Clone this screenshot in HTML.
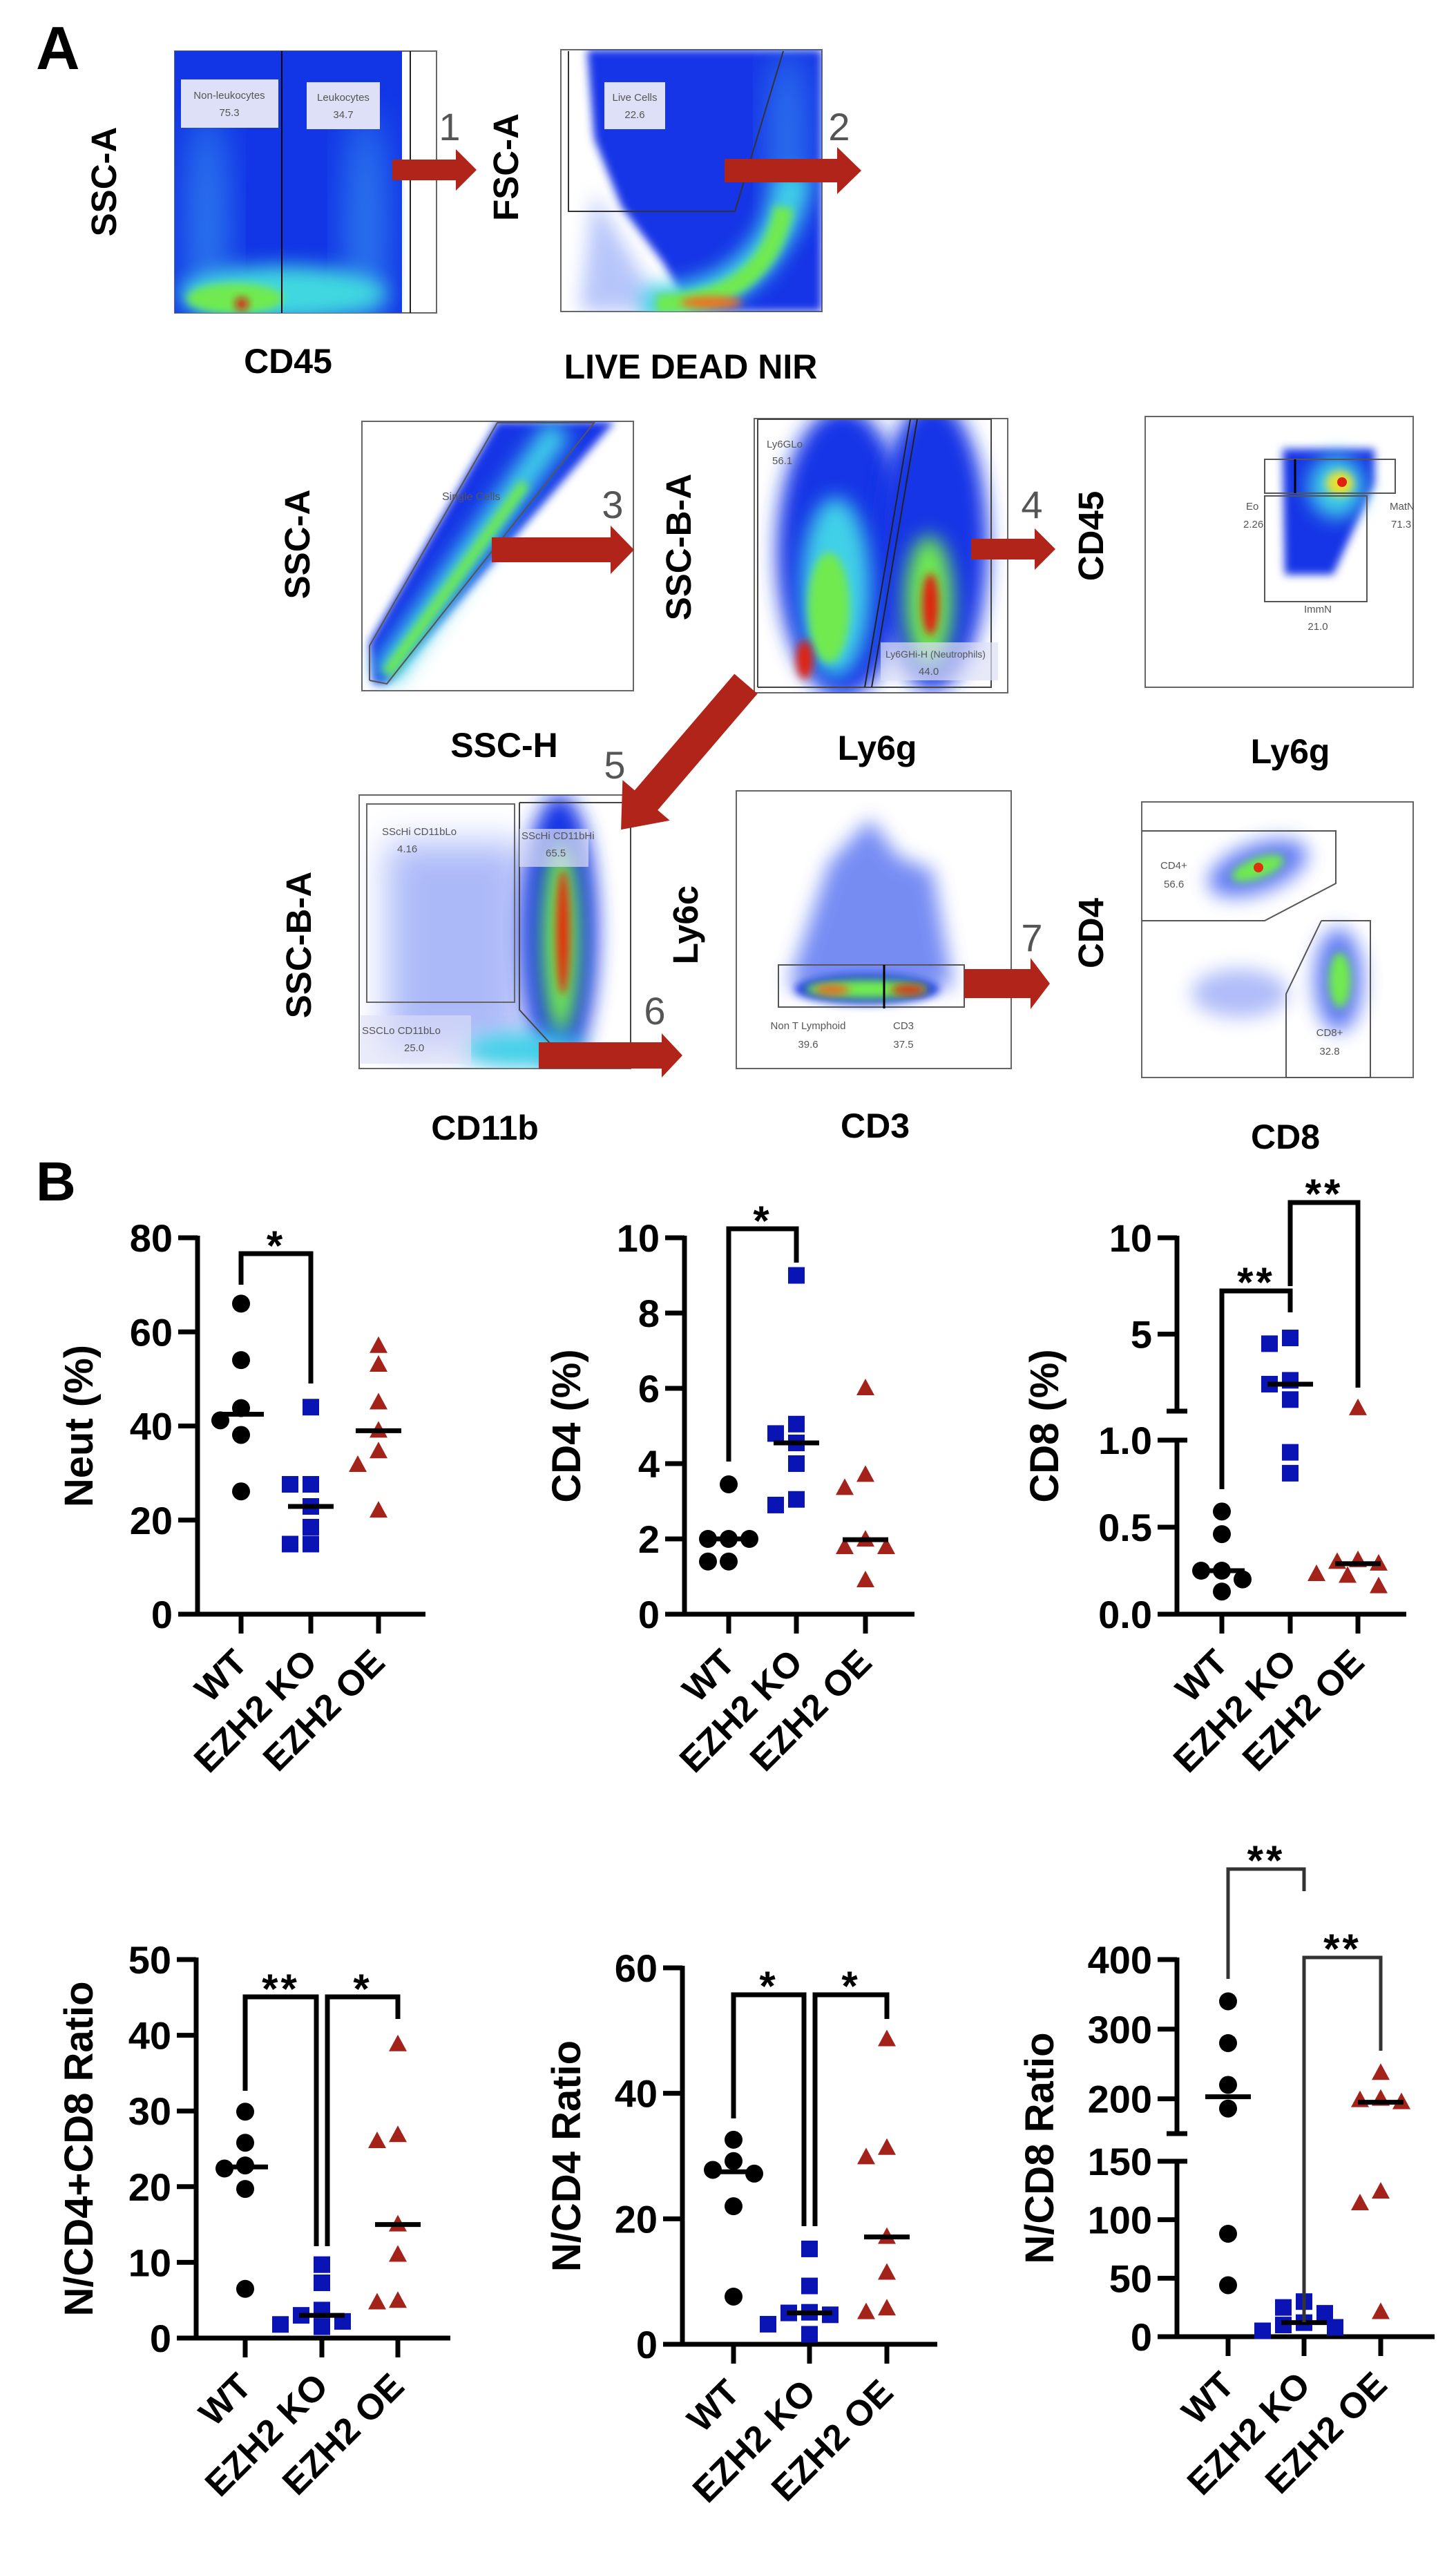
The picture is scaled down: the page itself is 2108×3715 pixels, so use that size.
<!DOCTYPE html>
<html><head><meta charset="utf-8"><style>
html,body{margin:0;padding:0;background:#fff}
svg text{font-family:"Liberation Sans",Arial,sans-serif}
</style></head><body>
<svg id="fig" width="2108" height="3710" viewBox="0 0 2108 3710" xmlns="http://www.w3.org/2000/svg">
<defs>
<filter id="b6" x="-50%" y="-50%" width="200%" height="200%"><feGaussianBlur stdDeviation="6"/></filter>
<filter id="b14" x="-50%" y="-50%" width="200%" height="200%"><feGaussianBlur stdDeviation="14"/></filter>
<filter id="b25" x="-50%" y="-50%" width="200%" height="200%"><feGaussianBlur stdDeviation="25"/></filter>
<clipPath id="c1"><rect x="253" y="74" width="379" height="379"/></clipPath>
<clipPath id="c2"><rect x="812" y="72" width="378" height="379"/></clipPath>
<clipPath id="c3"><rect x="524" y="610" width="393" height="390"/></clipPath>
<clipPath id="c4"><rect x="1092" y="606" width="367" height="397"/></clipPath>
<clipPath id="c5"><rect x="1658" y="603" width="388" height="392"/></clipPath>
<clipPath id="c6"><rect x="520" y="1151" width="393" height="396"/></clipPath>
<clipPath id="c7"><rect x="1066" y="1145" width="398" height="402"/></clipPath>
<clipPath id="c8"><rect x="1653" y="1161" width="393" height="399"/></clipPath>
</defs>

<text x="52" y="100" font-size="88" font-weight="bold">A</text>
<text x="52" y="1738" font-size="80" font-weight="bold">B</text>

<!-- Plot 1 -->
<g>
<rect x="253" y="74" width="379" height="379" fill="#fff" stroke="#666" stroke-width="2"/>
<g clip-path="url(#c1)">
<rect x="253" y="74" width="329" height="379" fill="#1236e6"/>
<ellipse cx="300" cy="330" rx="28" ry="170" fill="#3a9cf2" opacity=".7" filter="url(#b25)"/>
<ellipse cx="530" cy="330" rx="28" ry="170" fill="#3a9cf2" opacity=".7" filter="url(#b25)"/>
<ellipse cx="410" cy="425" rx="150" ry="40" fill="#40d8e0" filter="url(#b14)"/>
<ellipse cx="340" cy="432" rx="70" ry="22" fill="#70ea50" filter="url(#b6)"/>
<circle cx="350" cy="440" r="9" fill="#e01010" filter="url(#b6)"/>
</g>
<line x1="408" y1="74" x2="408" y2="453" stroke="#000" stroke-width="2"/>
<line x1="594" y1="74" x2="594" y2="453" stroke="#222" stroke-width="2"/>
<rect x="262" y="115" width="141" height="70" fill="#dde0f6"/>
<text x="332" y="143" font-size="15" fill="#555" text-anchor="middle">Non-leukocytes</text>
<text x="332" y="168" font-size="15" fill="#555" text-anchor="middle">75.3</text>
<rect x="444" y="119" width="106" height="68" fill="#dde0f6"/>
<text x="497" y="146" font-size="15" fill="#555" text-anchor="middle">Leukocytes</text>
<text x="497" y="171" font-size="15" fill="#555" text-anchor="middle">34.7</text>
<text x="168" y="263" font-size="51" font-weight="bold" text-anchor="middle" transform="rotate(-90 168 263)">SSC-A</text>
<text x="417" y="540" font-size="50" font-weight="bold" text-anchor="middle">CD45</text>
</g>

<!-- Plot 2 -->
<g>
<rect x="812" y="72" width="378" height="379" fill="#fff" stroke="#666" stroke-width="2"/>
<g clip-path="url(#c2)">
<polygon points="850,72 1190,72 1190,451 1000,451 960,380 900,300 860,200" fill="#1236e6" filter="url(#b6)"/>
<polygon points="860,280 960,451 840,451" fill="#6f8cf5" opacity=".5" filter="url(#b14)"/>
<ellipse cx="1140" cy="200" rx="25" ry="130" fill="#3a9cf2" opacity=".7" filter="url(#b25)"/>
<path d="M930,440 Q1120,440 1150,250" stroke="#3fd0e8" stroke-width="50" fill="none" filter="url(#b14)"/>
<path d="M950,440 Q1110,438 1135,300" stroke="#70ea50" stroke-width="28" fill="none" filter="url(#b6)"/>
<ellipse cx="1030" cy="438" rx="45" ry="9" fill="#f07020" filter="url(#b6)"/>
</g>
<polyline points="823,74 823,306 1064,306 1134,74" fill="none" stroke="#333" stroke-width="2"/>
<rect x="875" y="119" width="88" height="68" fill="#dde0f6"/>
<text x="919" y="146" font-size="15" fill="#555" text-anchor="middle">Live Cells</text>
<text x="919" y="171" font-size="15" fill="#555" text-anchor="middle">22.6</text>
<text x="750" y="242" font-size="51" font-weight="bold" text-anchor="middle" transform="rotate(-90 750 242)">FSC-A</text>
<text x="1000" y="548" font-size="50" font-weight="bold" text-anchor="middle">LIVE DEAD NIR</text>
</g>

<!-- Plot 3 -->
<g>
<rect x="524" y="610" width="393" height="390" fill="#fff" stroke="#666" stroke-width="2"/>
<g clip-path="url(#c3)">
<polygon points="540,990 560,990 890,610 720,610 535,930" fill="#1236e6" filter="url(#b6)"/>
<line x1="555" y1="980" x2="810" y2="620" stroke="#3fd0e8" stroke-width="40" filter="url(#b14)"/>
<line x1="560" y1="975" x2="760" y2="700" stroke="#70ea50" stroke-width="16" filter="url(#b6)"/>
</g>
<polyline points="535,985 535,935 720,612 860,612 560,990 535,985" fill="none" stroke="#555" stroke-width="2"/>
<text x="640" y="724" font-size="16" fill="#555">Single Cells</text>
<text x="448" y="788" font-size="51" font-weight="bold" text-anchor="middle" transform="rotate(-90 448 788)">SSC-A</text>
<text x="730" y="1096" font-size="50" font-weight="bold" text-anchor="middle">SSC-H</text>
</g>

<!-- Plot 4 -->
<g>
<rect x="1092" y="606" width="367" height="397" fill="#fff" stroke="#666" stroke-width="2"/>
<g clip-path="url(#c4)">
<ellipse cx="1220" cy="800" rx="95" ry="210" fill="#1236e6" filter="url(#b14)"/>
<ellipse cx="1350" cy="790" rx="80" ry="210" fill="#1236e6" filter="url(#b14)"/>
<ellipse cx="1210" cy="850" rx="50" ry="130" fill="#3fd0e8" filter="url(#b14)"/>
<ellipse cx="1200" cy="880" rx="30" ry="80" fill="#70ea50" filter="url(#b6)"/>
<ellipse cx="1165" cy="955" rx="12" ry="28" fill="#e02010" filter="url(#b6)"/>
<ellipse cx="1345" cy="870" rx="35" ry="95" fill="#70ea50" filter="url(#b14)"/>
<ellipse cx="1347" cy="875" rx="12" ry="45" fill="#e02010" filter="url(#b6)"/>
</g>
<polyline points="1097,995 1097,607 1435,607 1435,995 1097,995" fill="none" stroke="#444" stroke-width="2"/>
<line x1="1252" y1="995" x2="1318" y2="607" stroke="#222" stroke-width="2"/>
<line x1="1262" y1="995" x2="1328" y2="607" stroke="#222" stroke-width="2"/>
<text x="1110" y="648" font-size="15" fill="#555">Ly6GLo</text>
<text x="1118" y="672" font-size="15" fill="#555">56.1</text>
<rect x="1275" y="930" width="170" height="55" fill="#dde0f6" opacity=".7"/>
<text x="1282" y="952" font-size="14" fill="#555">Ly6GHi-H (Neutrophils)</text>
<text x="1330" y="977" font-size="15" fill="#555">44.0</text>
<text x="984" y="776" font-size="51" font-weight="bold" text-anchor="middle" transform="rotate(-90 1000 776)">SSC-B-A</text>
<text x="1270" y="1100" font-size="50" font-weight="bold" text-anchor="middle">Ly6g</text>
</g>

<!-- Plot 5 -->
<g>
<rect x="1658" y="603" width="388" height="392" fill="#fff" stroke="#666" stroke-width="2"/>
<g clip-path="url(#c5)">
<polygon points="1857,650 1990,650 1990,700 1930,832 1860,832" fill="#1236e6" filter="url(#b6)"/>
<ellipse cx="1935" cy="705" rx="40" ry="45" fill="#3fd0e8" filter="url(#b14)"/>
<ellipse cx="1940" cy="700" rx="20" ry="18" fill="#e8e030" filter="url(#b6)"/>
<circle cx="1943" cy="698" r="7" fill="#e02010"/>
</g>
<rect x="1831" y="665" width="189" height="49" fill="none" stroke="#555" stroke-width="2"/>
<line x1="1875" y1="665" x2="1875" y2="714" stroke="#000" stroke-width="3"/>
<rect x="1831" y="718" width="148" height="153" fill="none" stroke="#555" stroke-width="2"/>
<text x="1804" y="738" font-size="15" fill="#555">Eo</text>
<text x="1800" y="764" font-size="15" fill="#555">2.26</text>
<text x="2012" y="738" font-size="15" fill="#555">MatN</text>
<text x="2014" y="764" font-size="15" fill="#555">71.3</text>
<text x="1908" y="887" font-size="15" fill="#555" text-anchor="middle">ImmN</text>
<text x="1908" y="912" font-size="15" fill="#555" text-anchor="middle">21.0</text>
<text x="1597" y="776" font-size="51" font-weight="bold" text-anchor="middle" transform="rotate(-90 1597 776)">CD45</text>
<text x="1868" y="1105" font-size="50" font-weight="bold" text-anchor="middle">Ly6g</text>
</g>

<!-- Plot 6 -->
<g>
<rect x="520" y="1151" width="393" height="396" fill="#fff" stroke="#666" stroke-width="2"/>
<g clip-path="url(#c6)">
<rect x="560" y="1220" width="200" height="300" fill="#4a66f0" opacity=".45" filter="url(#b25)"/>
<ellipse cx="810" cy="1350" rx="55" ry="200" fill="#1236e6" filter="url(#b14)"/>
<ellipse cx="812" cy="1360" rx="28" ry="140" fill="#70ea50" filter="url(#b14)"/>
<ellipse cx="815" cy="1350" rx="10" ry="90" fill="#e03010" filter="url(#b6)"/>
<ellipse cx="760" cy="1520" rx="90" ry="25" fill="#3fd0e8" filter="url(#b14)"/>
</g>
<rect x="531" y="1164" width="214" height="287" fill="none" stroke="#666" stroke-width="2"/>
<polyline points="752,1162 913,1162 913,1545 828,1545 752,1462 752,1162" fill="none" stroke="#444" stroke-width="2"/>
<text x="553" y="1209" font-size="15" fill="#555">SScHi CD11bLo</text>
<text x="575" y="1234" font-size="15" fill="#555">4.16</text>
<rect x="752" y="1200" width="100" height="55" fill="#dde0f6" opacity=".7"/>
<text x="755" y="1215" font-size="15" fill="#555">SScHi CD11bHi</text>
<text x="790" y="1240" font-size="15" fill="#555">65.5</text>
<rect x="522" y="1470" width="160" height="70" fill="#dde0f6" opacity=".6"/>
<text x="524" y="1497" font-size="15" fill="#555">SSCLo CD11bLo</text>
<text x="585" y="1522" font-size="15" fill="#555">25.0</text>
<text x="433" y="1351" font-size="51" font-weight="bold" text-anchor="middle" transform="rotate(-90 450 1351)">SSC-B-A</text>
<text x="702" y="1650" font-size="50" font-weight="bold" text-anchor="middle">CD11b</text>
</g>

<!-- Plot 7 -->
<g>
<rect x="1066" y="1145" width="398" height="402" fill="#fff" stroke="#666" stroke-width="2"/>
<g clip-path="url(#c7)">
<polygon points="1140,1430 1200,1250 1260,1185 1300,1240 1350,1260 1380,1430" fill="#4a66f0" opacity=".75" filter="url(#b14)"/>
<ellipse cx="1255" cy="1432" rx="105" ry="22" fill="#1236e6" filter="url(#b6)"/>
<ellipse cx="1255" cy="1432" rx="90" ry="14" fill="#70ea50" filter="url(#b6)"/>
<ellipse cx="1205" cy="1433" rx="25" ry="7" fill="#f06020" filter="url(#b6)"/>
<ellipse cx="1315" cy="1433" rx="25" ry="7" fill="#e02010" filter="url(#b6)"/>
</g>
<rect x="1127" y="1397" width="269" height="61" fill="none" stroke="#555" stroke-width="2"/>
<line x1="1280" y1="1397" x2="1280" y2="1460" stroke="#000" stroke-width="3"/>
<text x="1170" y="1490" font-size="15" fill="#555" text-anchor="middle">Non T Lymphoid</text>
<text x="1170" y="1517" font-size="15" fill="#555" text-anchor="middle">39.6</text>
<text x="1308" y="1490" font-size="15" fill="#555" text-anchor="middle">CD3</text>
<text x="1308" y="1517" font-size="15" fill="#555" text-anchor="middle">37.5</text>
<text x="1010" y="1339" font-size="51" font-weight="bold" text-anchor="middle" transform="rotate(-90 1010 1339)">Ly6c</text>
<text x="1267" y="1647" font-size="50" font-weight="bold" text-anchor="middle">CD3</text>
</g>

<!-- Plot 8 -->
<g>
<rect x="1653" y="1161" width="393" height="399" fill="#fff" stroke="#666" stroke-width="2"/>
<g clip-path="url(#c8)">
<ellipse cx="1821" cy="1257" rx="75" ry="35" transform="rotate(-20 1821 1257)" fill="#3a5cf0" opacity=".8" filter="url(#b14)"/>
<ellipse cx="1821" cy="1257" rx="40" ry="15" transform="rotate(-20 1821 1257)" fill="#70ea50" filter="url(#b6)"/>
<circle cx="1822" cy="1256" r="7" fill="#e03010"/>
<ellipse cx="1938" cy="1419" rx="35" ry="75" fill="#3a5cf0" opacity=".8" filter="url(#b14)"/>
<ellipse cx="1940" cy="1419" rx="16" ry="40" fill="#70ea50" filter="url(#b6)"/>
<ellipse cx="1795" cy="1438" rx="70" ry="35" fill="#6f86f3" opacity=".55" filter="url(#b14)"/>
</g>
<polyline points="1653,1203 1934,1203 1934,1279 1831,1333 1653,1333" fill="none" stroke="#555" stroke-width="2"/>
<polyline points="1913,1333 1984,1333 1984,1560 1862,1560 1862,1439 1913,1333" fill="none" stroke="#555" stroke-width="2"/>
<text x="1680" y="1258" font-size="15" fill="#555">CD4+</text>
<text x="1685" y="1285" font-size="15" fill="#555">56.6</text>
<text x="1925" y="1500" font-size="15" fill="#555" text-anchor="middle">CD8+</text>
<text x="1925" y="1527" font-size="15" fill="#555" text-anchor="middle">32.8</text>
<text x="1597" y="1351" font-size="51" font-weight="bold" text-anchor="middle" transform="rotate(-90 1597 1351)">CD4</text>
<text x="1861" y="1663" font-size="50" font-weight="bold" text-anchor="middle">CD8</text>
</g>

<!-- Arrows -->
<g fill="#b0241a">
<polygon points="568,231 660,231 660,216 690,246 660,276 660,261 568,261"/>
<polygon points="1049,230 1212,230 1212,213 1247,247 1212,281 1212,264 1049,264"/>
<polygon points="712,778 884,778 884,761 918,796 884,831 884,814 712,814"/>
<polygon points="1406,780 1498,780 1498,765 1528,795 1498,825 1498,810 1406,810"/>
<polygon transform="translate(1080,990) rotate(130.6)" points="0,-22 222,-22 222,-45 278,0 222,45 222,22 0,22"/>
<polygon points="780,1509 958,1509 958,1496 988,1528 958,1560 958,1547 780,1547"/>
<polygon points="1396,1403 1492,1403 1492,1387 1520,1424 1492,1461 1492,1445 1396,1445"/>
</g>
<g font-size="56" fill="#555">
<text x="651" y="203" text-anchor="middle">1</text>
<text x="1215" y="203" text-anchor="middle">2</text>
<text x="887" y="750" text-anchor="middle">3</text>
<text x="1494" y="750" text-anchor="middle">4</text>
<text x="890" y="1127" text-anchor="middle">5</text>
<text x="948" y="1483" text-anchor="middle">6</text>
<text x="1494" y="1377" text-anchor="middle">7</text>
</g>
<g id="charts"></g>
</svg>

<script>
const groups = ["WT", "EZH2 KO", "EZH2 OE"];

const neutWT = [66, 54, 43.8, 41.2, 38.1, 26.1];
const neutKO = [44, 27.6, 27.6, 22.9, 18.5, 14.9, 14.9];
const neutOE = [57, 53, 45, 39, 34.6, 31.7, 22];
const neutTicks = [0, 20, 40, 60, 80];

const cd4WT = [3.45, 2.0, 2.0, 2.0, 1.4, 1.4];
const cd4KO = [9, 5.05, 4.8, 4.55, 4.0, 3.05, 2.9];
const cd4OE = [6, 3.7, 3.35, 1.98, 1.78, 1.78, 0.9];
const cd4Ticks = [0, 2, 4, 6, 8, 10];

const cd8WT = [0.59, 0.46, 0.25, 0.25, 0.2, 0.13];
const cd8KO = [4.8, 4.5, 2.6, 2.4, 1.6, 0.93, 0.81];
const cd8OE = [1.15, 0.31, 0.3, 0.29, 0.23, 0.22, 0.16];
const cd8Ticks = [0, 0.5, 1.0, 5, 10];
const cd8TickLabels = ["0.0", "0.5", "1.0", "5", "10"];

const ncd4cd8WT = [29.9, 25.8, 22.8, 22.4, 19.7, 6.5];
const ncd4cd8KO = [9.7, 7.3, 3.7, 3.0, 2.2, 1.8, 1.5];
const ncd4cd8OE = [38.8, 26.8, 26, 15, 11, 4.9, 4.7];
const ncd4cd8Ticks = [0, 10, 20, 30, 40, 50];

const ncd4WT = [32.6, 29.2, 27.8, 27.2, 22, 7.6];
const ncd4KO = [15.2, 9.3, 5.1, 5, 4.7, 3.2, 1.6];
const ncd4OE = [48.6, 31.3, 29.8, 17.1, 11.4, 5.7, 5.1];
const ncd4Ticks = [0, 20, 40, 60];

const ncd8WT = [340, 280, 220, 186, 88, 44];
const ncd8KO = [30, 25, 20, 12, 10, 8, 5];
const ncd8OE = [237, 200, 198, 195, 124, 114, 21];
const ncd8Ticks = [0, 50, 100, 150, 200, 300, 400];

const NS = "http://www.w3.org/2000/svg";
const root = document.getElementById("charts");
function mk(tag, attrs, parent) {
  const e = document.createElementNS(NS, tag);
  for (const k in attrs) e.setAttribute(k, attrs[k]);
  (parent || root).appendChild(e);
  return e;
}
function median(a) {
  const s = a.slice().sort((x, y) => x - y), n = s.length;
  return n % 2 ? s[(n - 1) / 2] : (s[n / 2 - 1] + s[n / 2]) / 2;
}
const colors = ["#000000", "#0a14b4", "#a3231a"];

const charts = [
  {name: "neut", title: "Neut (%)", data: [neutWT, neutKO, neutOE], ticks: neutTicks, labels: null,
   ax: 286, xs: [349, 450, 548], xe: 616, titleX: 134,
   segs: [{lo: 0, hi: 80, p0: 2337, p1: 1792}],
   brackets: [{a: 0, b: 1, top: 1815, la: 1860, lb: 2003, star: "*", sy: 1800}]},
  {name: "cd4", title: "CD4 (%)", data: [cd4WT, cd4KO, cd4OE], ticks: cd4Ticks, labels: null,
   ax: 991, xs: [1055, 1153, 1253], xe: 1324, titleX: 840,
   segs: [{lo: 0, hi: 10, p0: 2337, p1: 1792}],
   brackets: [{a: 0, b: 1, top: 1779, la: 2116, lb: 1828, star: "*", sy: 1764}]},
  {name: "cd8", title: "CD8 (%)", data: [cd8WT, cd8KO, cd8OE], ticks: cd8Ticks, labels: cd8TickLabels,
   ax: 1704, xs: [1769, 1868, 1966], xe: 2036, titleX: 1532,
   segs: [{lo: 0, hi: 1, p0: 2337, p1: 2085}, {lo: 1, hi: 10, p0: 2043, p1: 1792}],
   brackets: [{a: 0, b: 1, top: 1869, la: 2156, lb: 1900, star: "**", sy: 1853},
              {a: 1, b: 2, top: 1741, la: 1862, lb: 2009, star: "**", sy: 1725}]},
  {name: "n-cd4-cd8", title: "N/CD4+CD8 Ratio", data: [ncd4cd8WT, ncd4cd8KO, ncd4cd8OE], ticks: ncd4cd8Ticks, labels: null,
   ax: 284, xs: [355, 466, 576], xe: 652, titleX: 134,
   segs: [{lo: 0, hi: 50, p0: 3385, p1: 2837}],
   brackets: [{a: 0, b: 1, top: 2891, la: 3027, lb: 3252, star: "**", sy: 2876, ob: -8},
              {a: 1, b: 2, top: 2891, la: 3252, lb: 2923, star: "*", sy: 2876, oa: 8}]},
  {name: "n-cd4", title: "N/CD4 Ratio", data: [ncd4WT, ncd4KO, ncd4OE], ticks: ncd4Ticks, labels: null,
   ax: 988, xs: [1062, 1172, 1284], xe: 1357, titleX: 840,
   segs: [{lo: 0, hi: 60, p0: 3394, p1: 2849}],
   brackets: [{a: 0, b: 1, top: 2888, la: 3067, lb: 3223, star: "*", sy: 2872, ob: -8},
              {a: 1, b: 2, top: 2888, la: 3223, lb: 2923, star: "*", sy: 2872, oa: 8}]},
  {name: "n-cd8", title: "N/CD8 Ratio", data: [ncd8WT, ncd8KO, ncd8OE], ticks: ncd8Ticks, labels: null,
   ax: 1704, xs: [1778, 1888, 1999], xe: 2077, titleX: 1525,
   segs: [{lo: 0, hi: 150, p0: 3383, p1: 3129}, {lo: 150, hi: 400, p0: 3089, p1: 2837}],
   brackets: [{a: 0, b: 1, top: 2706, la: 2865, lb: 2738, star: "**", sy: 2690, gray: 1},
              {a: 1, b: 2, top: 2834, la: 3362, lb: 2969, star: "**", sy: 2818, gray: 1}]}
];

function yOf(c, v) {
  for (let i = 0; i < c.segs.length; i++) {
    const s = c.segs[i];
    if (v <= s.hi || i === c.segs.length - 1) {
      return s.p0 + (v - s.lo) / (s.hi - s.lo) * (s.p1 - s.p0);
    }
  }
}

charts.forEach(c => {
  const g = mk("g", {});
  
  
  const zero = c.segs[0].p0;
  c.segs.forEach((s, i) => {
    const ln = mk("line", {x1: c.ax, x2: c.ax, y1: s.p0 + (i === 0 ? 3 : 0), y2: s.p1 - 3, stroke: "#000", "stroke-width": 7}, g);
    
    
    if (c.segs.length > 1) {
      if (i > 0) mk("line", {x1: c.ax - 15, x2: c.ax + 15, y1: s.p0, y2: s.p0, stroke: "#000", "stroke-width": 7}, g);
      if (i < c.segs.length - 1) mk("line", {x1: c.ax - 15, x2: c.ax + 15, y1: s.p1, y2: s.p1, stroke: "#000", "stroke-width": 7}, g);
    }
  });
  const xa = mk("line", {x1: c.ax - 28, x2: c.xe, y1: zero, y2: zero, stroke: "#000", "stroke-width": 7}, g);
  
  
  c.ticks.forEach((t, i) => {
    const y = yOf(c, t);
    if (t !== 0) mk("line", {x1: c.ax - 28, x2: c.ax, y1: y, y2: y, stroke: "#000", "stroke-width": 7}, g);
    const tx = mk("text", {x: c.ax - 36, y: y + 20, "font-size": 56, "font-weight": "bold", "text-anchor": "end"}, g);
    
    
    tx.textContent = c.labels ? c.labels[i] : String(t);
  });
  c.xs.forEach((x, i) => {
    mk("line", {x1: x, x2: x, y1: zero, y2: zero + 28, stroke: "#000", "stroke-width": 7}, g);
    const lx = x + 12, ly = zero + 73;
    const tx = mk("text", {x: lx, y: ly, "font-size": 52, "font-weight": "bold", "text-anchor": "end", transform: `rotate(-45 ${lx} ${ly})`}, g);
    
    
    tx.textContent = groups[i];
  });
  const top = c.segs[c.segs.length - 1].p1;
  const cy = (zero + top) / 2;
  const tt = mk("text", {x: c.titleX, y: cy, "font-size": 58, "font-weight": "bold", "text-anchor": "middle", transform: `rotate(-90 ${c.titleX} ${cy})`}, g);
  
  
  tt.textContent = c.title;
  c.data.forEach((vals, gi) => {
    const cx = c.xs[gi];
    const placed = [];
    const sorted = vals.slice().sort((a, b) => b - a);
    sorted.forEach(v => {
      const y = yOf(c, v);
      const offs = [0, -1, 1, -0.5, 0.5, -1.5, 1.5, -2, 2];
      let x = cx;
      for (const o of offs) {
        const tx = cx + o * 30;
        if (placed.every(p => Math.hypot(p[0] - tx, p[1] - y) >= 24)) { x = tx; break; }
      }
      placed.push([x, y]);
      let m;
      if (gi === 0) m = mk("circle", {cx: x, cy: y, r: 13, fill: colors[0]}, g);
      else if (gi === 1) m = mk("rect", {x: x - 12, y: y - 12, width: 24, height: 24, fill: colors[1]}, g);
      else m = mk("polygon", {points: `${x},${y - 14} ${x + 13},${y + 10} ${x - 13},${y + 10}`, fill: colors[2]}, g);
      
      
    });
    const my = yOf(c, median(vals));
    const ml = mk("line", {x1: cx - 33, x2: cx + 33, y1: my, y2: my, stroke: "#000", "stroke-width": 7}, g);
    
    
  });
  c.brackets.forEach(b => {
    const xa = c.xs[b.a] + (b.oa || 0), xb = c.xs[b.b] + (b.ob || 0);
    const col = b.gray ? "#333" : "#000";
    const pl = mk("polyline", {points: `${xa},${b.la} ${xa},${b.top} ${xb},${b.top} ${xb},${b.lb}`, fill: "none", stroke: col, "stroke-width": b.gray ? 5 : 7}, g);
    
    
    const st = mk("text", {x: (xa + xb) / 2, y: b.sy + 24, "font-size": 60, "font-weight": "bold", "text-anchor": "middle", "letter-spacing": "4"}, g);
    
    
    st.textContent = b.star;
  });
});
</script>
</body></html>
